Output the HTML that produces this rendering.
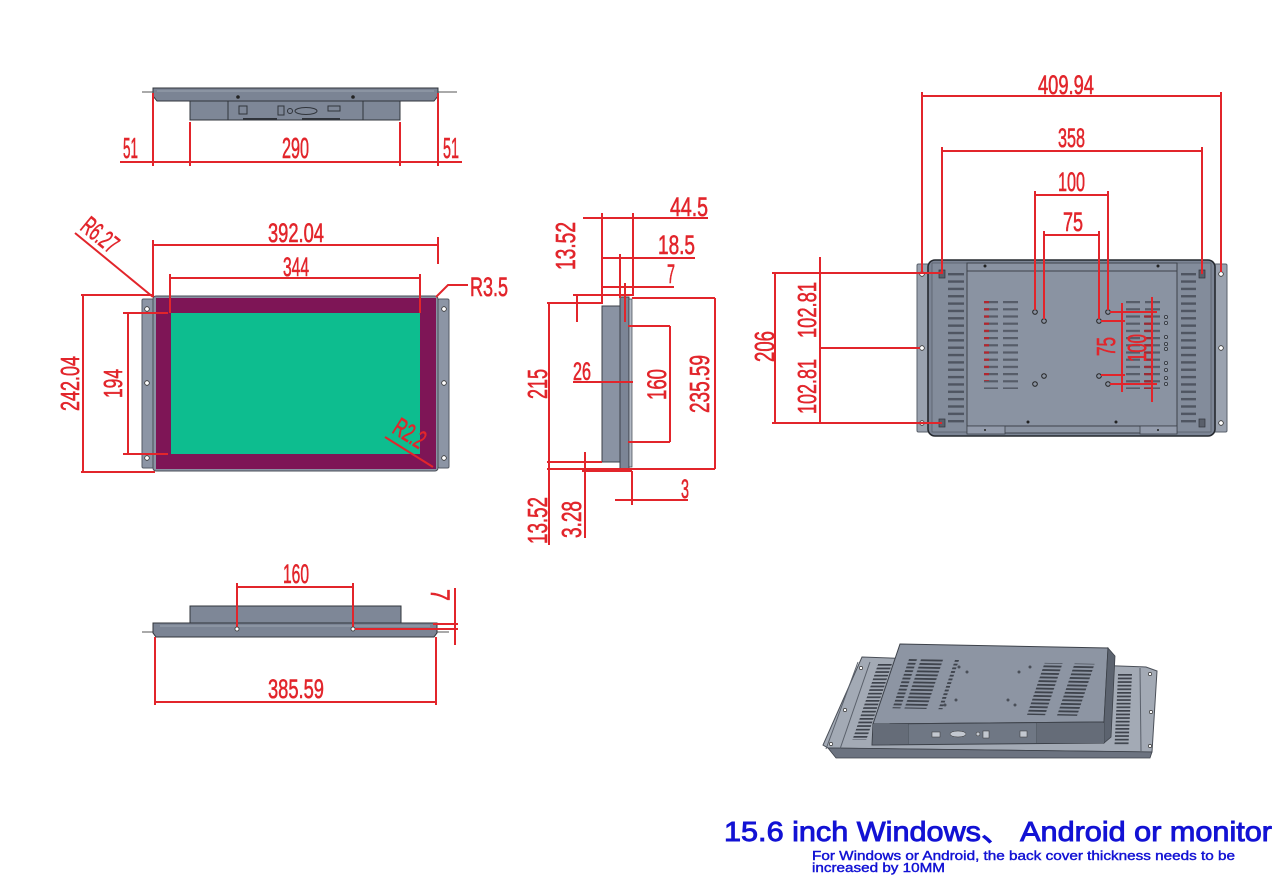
<!DOCTYPE html>
<html>
<head>
<meta charset="utf-8">
<style>
html,body{margin:0;padding:0;background:#fff;}
svg{display:block;}
.d{stroke:#e2252b;stroke-width:2;fill:none;}
.t{fill:#e2252b;stroke:#e2252b;stroke-width:0.6;font-family:"Liberation Sans",sans-serif;font-size:27px;}
.g{stroke:#30343b;stroke-width:1;}
</style>
</head>
<body>
<svg width="1284" height="895" viewBox="0 0 1284 895" xmlns="http://www.w3.org/2000/svg">
<defs>
<pattern id="vL" x="948" y="273" width="20" height="7.35" patternUnits="userSpaceOnUse"><rect x="0" y="0" width="16" height="2.4" fill="#4f5561"/></pattern>
<pattern id="vR" x="1181" y="273" width="20" height="7.35" patternUnits="userSpaceOnUse"><rect x="0" y="0" width="15" height="2.4" fill="#4f5561"/></pattern>
<pattern id="vC1" x="984" y="301" width="40" height="7.2" patternUnits="userSpaceOnUse"><rect x="0" y="0" width="14" height="2.2" fill="#565c68"/><rect x="19" y="0" width="15" height="2.2" fill="#565c68"/></pattern>
<pattern id="vC2" x="1126" y="301" width="40" height="7.2" patternUnits="userSpaceOnUse"><rect x="0" y="0" width="14" height="2.2" fill="#565c68"/><rect x="19" y="0" width="15" height="2.2" fill="#565c68"/></pattern>
<pattern id="vRed" x="984" y="301" width="40" height="7.2" patternUnits="userSpaceOnUse"><rect x="0" y="0" width="5" height="2.2" fill="#b3262e"/></pattern>
<pattern id="vRed2" x="1144" y="301" width="40" height="7.2" patternUnits="userSpaceOnUse"><rect x="0" y="0" width="7" height="2.2" fill="#9a2a34"/></pattern>
<pattern id="vI" x="0" y="0" width="60" height="3.7" patternUnits="userSpaceOnUse"><rect x="0" y="0" width="22" height="1.8" fill="#3d424b"/><rect x="26" y="0" width="22" height="1.8" fill="#3d424b"/></pattern>
<pattern id="vS" x="0" y="0" width="30" height="3.6" patternUnits="userSpaceOnUse"><rect x="0" y="0" width="14" height="1.7" fill="#3d424b"/></pattern>
</defs>

<rect width="1284" height="895" fill="#fff"/>

<!-- ================= TOP VIEW ================= -->
<line x1="142" y1="92" x2="153" y2="92" stroke="#555" stroke-width="1"/>
<line x1="438" y1="92" x2="457" y2="92" stroke="#555" stroke-width="1"/>
<polygon points="153,88 438,88 438,96 434,101 157,101 153,96" fill="#7b8494" class="g"/>
<line x1="157" y1="91" x2="434" y2="91" stroke="#9ba3b0" stroke-width="1"/>
<circle cx="238" cy="97" r="1.8" fill="#222"/>
<circle cx="353" cy="97" r="1.8" fill="#222"/>
<rect x="190" y="101" width="210" height="19" fill="#7e8797" class="g"/>
<line x1="228" y1="101" x2="228" y2="120" stroke="#30343b"/>
<line x1="363" y1="101" x2="363" y2="120" stroke="#30343b"/>
<rect x="239" y="106" width="8" height="8" fill="none" stroke="#30343b"/>
<rect x="278" y="106" width="6" height="9" fill="none" stroke="#30343b"/>
<circle cx="290" cy="111" r="2.5" fill="none" stroke="#30343b"/>
<ellipse cx="306" cy="111" rx="11" ry="3.5" fill="none" stroke="#30343b"/>
<rect x="328" y="106" width="12" height="5" fill="none" stroke="#30343b"/>
<line x1="243" y1="119" x2="277" y2="119" stroke="#30343b" stroke-width="2"/>
<line x1="302" y1="119" x2="340" y2="119" stroke="#30343b" stroke-width="2"/>

<line class="d" x1="153" y1="93" x2="153" y2="166"/>
<line class="d" x1="190" y1="122" x2="190" y2="166"/>
<line class="d" x1="400" y1="122" x2="400" y2="166"/>
<line class="d" x1="438" y1="93" x2="438" y2="166"/>
<line class="d" x1="120" y1="162" x2="462" y2="162"/>
<text class="t" x="123" y="158" textLength="15" lengthAdjust="spacingAndGlyphs" style="font-size:29px">51</text>
<text class="t" x="282" y="158" textLength="27" lengthAdjust="spacingAndGlyphs" style="font-size:29px">290</text>
<text class="t" x="443" y="158" textLength="16" lengthAdjust="spacingAndGlyphs" style="font-size:29px">51</text>

<!-- ================= FRONT VIEW ================= -->
<rect x="142" y="299" width="12" height="169" rx="1.5" fill="#8c95a5" stroke="#555b66" stroke-width="1"/>
<rect x="438" y="299" width="11" height="169" rx="1.5" fill="#8c95a5" stroke="#555b66" stroke-width="1"/>
<circle cx="147" cy="309" r="2.3" fill="#fff" stroke="#333" stroke-width="0.8"/>
<circle cx="147" cy="383" r="2.3" fill="#fff" stroke="#333" stroke-width="0.8"/>
<circle cx="147" cy="458" r="2.3" fill="#fff" stroke="#333" stroke-width="0.8"/>
<circle cx="444" cy="309" r="2.3" fill="#fff" stroke="#333" stroke-width="0.8"/>
<circle cx="444" cy="383" r="2.3" fill="#fff" stroke="#333" stroke-width="0.8"/>
<circle cx="444" cy="458" r="2.3" fill="#fff" stroke="#333" stroke-width="0.8"/>
<rect x="153" y="296" width="285" height="175" rx="3" fill="#8a93a3" stroke="#4a4f58" stroke-width="1"/>
<rect x="156" y="298" width="280" height="171" fill="#7e1556"/>
<rect x="171" y="313" width="249" height="141" fill="#0dbd8f"/>

<line class="d" x1="153" y1="240" x2="153" y2="297"/>
<line class="d" x1="438" y1="237" x2="438" y2="264"/>
<line class="d" x1="153" y1="245" x2="438" y2="245"/>
<text class="t" x="268" y="242" textLength="56" lengthAdjust="spacingAndGlyphs">392.04</text>
<line class="d" x1="170" y1="274" x2="170" y2="313"/>
<line class="d" x1="420" y1="274" x2="420" y2="313"/>
<line class="d" x1="170" y1="278" x2="420" y2="278"/>
<text class="t" x="283" y="276" textLength="26" lengthAdjust="spacingAndGlyphs">344</text>
<polyline class="d" points="436,297 448,285 468,285"/>
<text class="t" x="470" y="296" textLength="38" lengthAdjust="spacingAndGlyphs">R3.5</text>
<line class="d" x1="75" y1="233" x2="153" y2="297"/>
<text class="t" transform="translate(79,229) rotate(39.4)" x="0" y="0" textLength="40" lengthAdjust="spacingAndGlyphs" style="font-size:26px">R6.27</text>
<line class="d" x1="385" y1="437" x2="433" y2="467"/>
<text class="t" transform="translate(391,432) rotate(32)" x="0" y="0" textLength="33" lengthAdjust="spacingAndGlyphs" style="font-size:26px">R2.2</text>
<line class="d" x1="83" y1="295" x2="83" y2="472"/>
<line class="d" x1="81" y1="295" x2="153" y2="295"/>
<line class="d" x1="81" y1="472" x2="155" y2="472"/>
<text class="t" transform="translate(79,411) rotate(-90)" textLength="55" lengthAdjust="spacingAndGlyphs" style="font-size:26px">242.04</text>
<line class="d" x1="128" y1="313" x2="128" y2="454"/>
<line class="d" x1="123" y1="313" x2="168" y2="313"/>
<line class="d" x1="123" y1="454" x2="168" y2="454"/>
<text class="t" transform="translate(122,398) rotate(-90)" textLength="29" lengthAdjust="spacingAndGlyphs" style="font-size:26px">194</text>

<!-- ================= SIDE VIEW ================= -->
<rect x="602" y="306" width="18" height="156" fill="#8a93a3" stroke="#3c4049" stroke-width="1"/>
<rect x="620" y="297" width="9" height="172" fill="#7c8596" stroke="#3c4049" stroke-width="1"/>
<rect x="629" y="299" width="3" height="168" fill="#b3bac5" stroke="#3c4049" stroke-width="0.7"/>

<line class="d" x1="583" y1="218" x2="708" y2="218"/>
<line class="d" x1="602" y1="213" x2="602" y2="304"/>
<line class="d" x1="633" y1="213" x2="633" y2="296"/>
<text class="t" x="670" y="216" textLength="38" lengthAdjust="spacingAndGlyphs">44.5</text>
<line class="d" x1="602" y1="258" x2="695" y2="258"/>
<line class="d" x1="620" y1="254" x2="620" y2="298"/>
<text class="t" x="658" y="254" textLength="37" lengthAdjust="spacingAndGlyphs">18.5</text>
<line class="d" x1="602" y1="287" x2="674" y2="287"/>
<line class="d" x1="625" y1="283" x2="625" y2="322"/>
<text class="t" x="667" y="283" textLength="8" lengthAdjust="spacingAndGlyphs">7</text>
<line class="d" x1="573" y1="295" x2="632" y2="295"/>
<line class="d" x1="577" y1="295" x2="577" y2="322"/>
<text class="t" transform="translate(575,270) rotate(-90)" textLength="48" lengthAdjust="spacingAndGlyphs" style="font-size:28px">13.52</text>
<line class="d" x1="547" y1="303" x2="602" y2="303"/>
<line class="d" x1="549" y1="303" x2="549" y2="545"/>
<text class="t" transform="translate(547,399) rotate(-90)" textLength="30" lengthAdjust="spacingAndGlyphs" style="font-size:28px">215</text>
<line class="d" x1="573" y1="382" x2="633" y2="382"/>
<text class="t" x="573" y="380" textLength="18" lengthAdjust="spacingAndGlyphs" style="font-size:25px">26</text>
<line class="d" x1="670" y1="326" x2="670" y2="442"/>
<line class="d" x1="628" y1="326" x2="670" y2="326"/>
<line class="d" x1="628" y1="442" x2="670" y2="442"/>
<text class="t" transform="translate(666,400) rotate(-90)" textLength="31" lengthAdjust="spacingAndGlyphs" style="font-size:27px">160</text>
<line class="d" x1="715" y1="298" x2="715" y2="469"/>
<line class="d" x1="632" y1="298" x2="715" y2="298"/>
<line class="d" x1="632" y1="469" x2="715" y2="469"/>
<text class="t" transform="translate(709,413) rotate(-90)" textLength="58" lengthAdjust="spacingAndGlyphs" style="font-size:28px">235.59</text>
<line class="d" x1="547" y1="462" x2="602" y2="462"/>
<line class="d" x1="547" y1="469" x2="632" y2="469"/>
<line class="d" x1="582" y1="471" x2="632" y2="471" stroke-width="1.5"/>
<line class="d" x1="585" y1="452" x2="585" y2="538"/>
<line class="d" x1="632" y1="471" x2="632" y2="505" stroke-width="3"/>
<line class="d" x1="615" y1="500" x2="688" y2="500"/>
<text class="t" x="681" y="498" textLength="8" lengthAdjust="spacingAndGlyphs">3</text>
<text class="t" transform="translate(547,544) rotate(-90)" textLength="47" lengthAdjust="spacingAndGlyphs" style="font-size:28px">13.52</text>
<text class="t" transform="translate(581,538) rotate(-90)" textLength="37" lengthAdjust="spacingAndGlyphs" style="font-size:28px">3.28</text>

<!-- ================= BOTTOM VIEW ================= -->
<line x1="142" y1="632" x2="153" y2="632" stroke="#555" stroke-width="1"/>
<line x1="437" y1="632" x2="449" y2="632" stroke="#555" stroke-width="1"/>
<rect x="190" y="606" width="211" height="17" fill="#7e8797" class="g"/>
<polygon points="153,623 437,623 437,633 434,637 156,637 153,633" fill="#7b8494" class="g"/>
<line x1="160" y1="626" x2="430" y2="626" stroke="#9ba3b0" stroke-width="1"/>
<line class="d" x1="237" y1="583" x2="237" y2="629"/>
<line class="d" x1="353" y1="583" x2="353" y2="629"/>
<line class="d" x1="237" y1="587" x2="353" y2="587"/>
<circle cx="237" cy="629" r="2" fill="#fff" stroke="#333" stroke-width="0.8"/>
<circle cx="353" cy="629" r="2" fill="#fff" stroke="#333" stroke-width="0.8"/>
<text class="t" x="283" y="583" textLength="26" lengthAdjust="spacingAndGlyphs">160</text>
<line class="d" x1="355" y1="629" x2="458" y2="629"/>
<line class="d" x1="433" y1="624" x2="458" y2="624"/>
<line class="d" x1="455" y1="588" x2="455" y2="645"/>
<text class="t" transform="translate(431,589) rotate(90)" textLength="12" lengthAdjust="spacingAndGlyphs">7</text>
<line class="d" x1="155" y1="637" x2="155" y2="705"/>
<line class="d" x1="436" y1="637" x2="436" y2="705"/>
<line class="d" x1="155" y1="702" x2="436" y2="702"/>
<text class="t" x="268" y="698" textLength="56" lengthAdjust="spacingAndGlyphs">385.59</text>

<!-- ================= BACK VIEW ================= -->
<rect x="917" y="264" width="14" height="168" rx="1.5" fill="#9aa2af" stroke="#59606b" stroke-width="1"/>
<rect x="1212" y="264" width="15" height="168" rx="1.5" fill="#9aa2af" stroke="#59606b" stroke-width="1"/>
<rect x="928" y="260" width="287" height="176" rx="7" fill="#7c8595" stroke="#25292f" stroke-width="1.6"/>
<rect x="932" y="263" width="35" height="169" fill="#838c9b" stroke="#5a606b" stroke-width="0.8"/>
<rect x="1177" y="263" width="34" height="169" fill="#838c9b" stroke="#5a606b" stroke-width="0.8"/>
<rect x="967" y="263" width="210" height="170" fill="#8a93a2" stroke="#3d424a" stroke-width="1"/>
<line x1="967" y1="271" x2="1177" y2="271" stroke="#3d424a" stroke-width="1"/>
<line x1="967" y1="426" x2="1177" y2="426" stroke="#3d424a" stroke-width="1"/>
<rect x="967" y="426" width="38" height="8" fill="#939bab" stroke="#3d424a" stroke-width="0.8"/>
<rect x="1140" y="426" width="37" height="8" fill="#939bab" stroke="#3d424a" stroke-width="0.8"/>
<rect x="948" y="273" width="16" height="152" fill="url(#vL)"/>
<rect x="1181" y="273" width="15" height="152" fill="url(#vR)"/>
<rect x="984" y="301" width="35" height="88" fill="url(#vC1)"/>
<rect x="1126" y="301" width="35" height="88" fill="url(#vC2)"/>
<rect x="984" y="301" width="5" height="80" fill="url(#vRed)"/>
<rect x="1144" y="315" width="7" height="74" fill="url(#vRed2)"/>
<rect x="939" y="270" width="6" height="8" fill="#5a606b" stroke="#30343b" stroke-width="0.7"/>
<rect x="939" y="419" width="6" height="8" fill="#5a606b" stroke="#30343b" stroke-width="0.7"/>
<rect x="1199" y="270" width="6" height="8" fill="#5a606b" stroke="#30343b" stroke-width="0.7"/>
<rect x="1199" y="419" width="6" height="8" fill="#5a606b" stroke="#30343b" stroke-width="0.7"/>
<g fill="#222">
<circle cx="985" cy="266" r="1.5"/><circle cx="1158" cy="266" r="1.5"/>
<circle cx="1028" cy="422" r="1.5"/><circle cx="1116" cy="422" r="1.5"/>
<circle cx="985" cy="430" r="1"/><circle cx="1158" cy="430" r="1"/>
</g>
<g fill="#9aa2ae" stroke="#30343b" stroke-width="0.8">
<circle cx="1166" cy="317" r="1.6"/><circle cx="1166" cy="323" r="1.6"/><circle cx="1166" cy="337" r="1.6"/>
<circle cx="1166" cy="344" r="1.6"/><circle cx="1166" cy="349" r="1.6"/><circle cx="1166" cy="363" r="1.6"/>
<circle cx="1166" cy="370" r="1.6"/><circle cx="1166" cy="378" r="1.6"/><circle cx="1166" cy="384" r="1.6"/>
</g>
<g fill="#fff" stroke="#333" stroke-width="0.8">
<circle cx="922" cy="274" r="2.3"/><circle cx="922" cy="348" r="2.3"/><circle cx="922" cy="423" r="2.3"/>
<circle cx="1221" cy="274" r="2.3"/><circle cx="1221" cy="348" r="2.3"/><circle cx="1221" cy="423" r="2.3"/>
</g>
<g fill="#8a93a2" stroke="#222" stroke-width="1">
<circle cx="1035" cy="312" r="2.3"/><circle cx="1044" cy="321" r="2.3"/>
<circle cx="1099" cy="321" r="2.3"/><circle cx="1108" cy="312" r="2.3"/>
<circle cx="1044" cy="376" r="2.3"/><circle cx="1035" cy="384" r="2.3"/>
<circle cx="1099" cy="376" r="2.3"/><circle cx="1108" cy="384" r="2.3"/>
</g>

<line class="d" x1="922" y1="96" x2="1221" y2="96"/>
<line class="d" x1="922" y1="92" x2="922" y2="272"/>
<line class="d" x1="1221" y1="92" x2="1221" y2="272"/>
<text class="t" x="1038" y="94" textLength="56" lengthAdjust="spacingAndGlyphs">409.94</text>
<line class="d" x1="942" y1="151" x2="1202" y2="151"/>
<line class="d" x1="942" y1="147" x2="942" y2="274"/>
<line class="d" x1="1202" y1="147" x2="1202" y2="274"/>
<text class="t" x="1058" y="147" textLength="27" lengthAdjust="spacingAndGlyphs">358</text>
<line class="d" x1="1035" y1="195" x2="1108" y2="195"/>
<line class="d" x1="1035" y1="191" x2="1035" y2="310"/>
<line class="d" x1="1108" y1="191" x2="1108" y2="310"/>
<text class="t" x="1058" y="191" textLength="27" lengthAdjust="spacingAndGlyphs">100</text>
<line class="d" x1="1044" y1="235" x2="1099" y2="235"/>
<line class="d" x1="1044" y1="231" x2="1044" y2="319"/>
<line class="d" x1="1099" y1="231" x2="1099" y2="319"/>
<text class="t" x="1063" y="231" textLength="20" lengthAdjust="spacingAndGlyphs">75</text>
<line class="d" x1="1110" y1="312" x2="1157" y2="312"/>
<line class="d" x1="1101" y1="321" x2="1125" y2="321"/>
<line class="d" x1="1101" y1="375" x2="1125" y2="375"/>
<line class="d" x1="1110" y1="384" x2="1157" y2="384"/>
<line class="d" x1="1122" y1="303" x2="1122" y2="392"/>
<line class="d" x1="1152" y1="297" x2="1152" y2="402"/>
<text class="t" transform="translate(1115,356) rotate(-90)" textLength="19" lengthAdjust="spacingAndGlyphs" style="font-size:26px">75</text>
<text class="t" transform="translate(1146,362) rotate(-90)" textLength="28" lengthAdjust="spacingAndGlyphs" style="font-size:26px">100</text>
<line class="d" x1="775" y1="273" x2="775" y2="423"/>
<line class="d" x1="772" y1="273" x2="942" y2="273"/>
<line class="d" x1="772" y1="423" x2="942" y2="423"/>
<line class="d" x1="820" y1="257" x2="820" y2="423"/>
<line class="d" x1="820" y1="348" x2="920" y2="348"/>
<text class="t" transform="translate(774,362) rotate(-90)" textLength="31" lengthAdjust="spacingAndGlyphs" style="font-size:28px">206</text>
<text class="t" transform="translate(816,338) rotate(-90)" textLength="56" lengthAdjust="spacingAndGlyphs" style="font-size:26px">102.81</text>
<text class="t" transform="translate(816,414) rotate(-90)" textLength="55" lengthAdjust="spacingAndGlyphs" style="font-size:26px">102.81</text>

<!-- ================= ISOMETRIC ================= -->
<polygon points="862,657 1146,667 1157,671 1152,752 828,748 823,745" fill="#a3aab5" stroke="#4a4f58" stroke-width="1"/>
<polygon points="828,748 1152,752 1150,758 836,758" fill="#6c7380" stroke="#3d424a" stroke-width="0.8"/>
<line x1="858" y1="662" x2="826" y2="749" stroke="#5a606b" stroke-width="1"/>
<line x1="870" y1="662" x2="840" y2="749" stroke="#5a606b" stroke-width="1"/>
<line x1="1140" y1="668" x2="1141" y2="751" stroke="#5a606b" stroke-width="1"/>
<g fill="#fff" stroke="#333" stroke-width="0.7">
<circle cx="861" cy="668" r="1.6"/><circle cx="845" cy="710" r="1.6"/><circle cx="831" cy="744" r="1.6"/>
<circle cx="1150" cy="674" r="1.6"/><circle cx="1151" cy="712" r="1.6"/><circle cx="1150" cy="746" r="1.6"/>
</g>
<g transform="matrix(1,0,-0.3375,1,878,664)"><rect x="0" y="0" width="14" height="76" fill="url(#vS)"/></g>
<g transform="matrix(1,0,-0.05,1,1118,674)"><rect x="0" y="0" width="16" height="72" fill="url(#vS)"/></g>
<polygon points="900,644 1108,648 1104,722 873,724" fill="#8d95a3" stroke="#3d424a" stroke-width="1"/>
<polygon points="873,724 1104,722 1104,743 872,745" fill="#6f7784" stroke="#3d424a" stroke-width="1"/>
<polygon points="1108,648 1115,656 1111,737 1104,743 1104,722" fill="#5c636f" stroke="#3d424a" stroke-width="0.8"/>
<g transform="matrix(1,0.0192,-0.3375,1,900,644)">
<rect x="14" y="14" width="50" height="50" fill="url(#vI)"/>
<rect x="150" y="16" width="50" height="52" fill="url(#vI)"/>
</g>
<g fill="#4a4f58">
<circle cx="959" cy="667" r="1.5"/><circle cx="967" cy="672" r="1.5"/>
<circle cx="1019" cy="672" r="1.5"/><circle cx="1030" cy="667" r="1.5"/>
<circle cx="956" cy="700" r="1.5"/><circle cx="945" cy="705" r="1.5"/>
<circle cx="1008" cy="700" r="1.5"/><circle cx="1015" cy="705" r="1.5"/>
</g>
<line x1="908" y1="724" x2="908" y2="744" stroke="#3d424a" stroke-width="0.8"/>
<line x1="1037" y1="723" x2="1037" y2="743" stroke="#3d424a" stroke-width="0.8"/>
<rect x="873" y="724" width="35" height="20" fill="#656c78"/>
<rect x="1037" y="723" width="67" height="20" fill="#656c78"/>
<rect x="932" y="732" width="8" height="5" fill="#c3c8d0" stroke="#333" stroke-width="0.5"/>
<ellipse cx="958" cy="734" rx="8" ry="3" fill="#c3c8d0" stroke="#333" stroke-width="0.5"/>
<circle cx="978" cy="734" r="2" fill="#c3c8d0" stroke="#333" stroke-width="0.5"/>
<rect x="983" y="731" width="6" height="7" fill="#c3c8d0" stroke="#333" stroke-width="0.5"/>
<rect x="1020" y="731" width="7" height="6" fill="#c3c8d0" stroke="#333" stroke-width="0.5"/>

<!-- ================= TITLE ================= -->
<text x="724" y="841" textLength="548" lengthAdjust="spacingAndGlyphs" style="font-family:'Liberation Sans','Noto Sans CJK SC',sans-serif;font-size:27.5px;fill:#1212d4;stroke:#1212d4;stroke-width:0.9">15.6 inch Windows、 Android or monitor</text>
<text x="812" y="860" textLength="423" lengthAdjust="spacingAndGlyphs" style="font-family:'Liberation Sans',sans-serif;font-size:12.5px;fill:#1212d4;stroke:#1212d4;stroke-width:0.4">For Windows or Android, the back cover thickness needs to be</text>
<text x="812" y="872" textLength="133" lengthAdjust="spacingAndGlyphs" style="font-family:'Liberation Sans',sans-serif;font-size:12.5px;fill:#1212d4;stroke:#1212d4;stroke-width:0.4">increased by 10MM</text>
</svg>
</body>
</html>
